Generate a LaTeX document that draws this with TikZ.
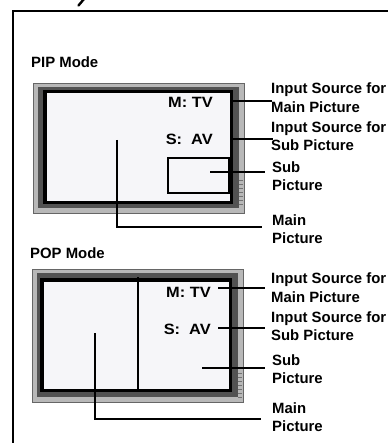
\documentclass[tikz,border=0pt]{standalone}
\usepackage{fontspec}
\setmainfont{Liberation Sans}
\newfontfamily\widesans[FakeStretch=1.1]{Liberation Sans}
\definecolor{screencol}{RGB}{246,246,249}
\tikzset{
  lbl/.style={anchor=base west, inner sep=0pt, font=\fontsize{14.9}{17}\selectfont\bfseries},
  src/.style={anchor=base east, inner sep=0pt, font=\fontsize{14.9}{17}\selectfont\widesans\bfseries},
  conn/.style={line width=2pt},
  bezel/.style={fill=black!28, draw=black!60, line width=0.8pt},
  band/.style={fill=black!68},
  screen/.style={fill=screencol, draw=black, line width=3.5pt},
  subbox/.style={draw=black, line width=2.5pt},
  btn/.style={draw=black!55, line width=0.6pt},
}
\begin{document}
\begin{tikzpicture}[x=1pt,y=-1pt]
\useasboundingbox (0,0) rectangle (387,443);
% outer frame and cropped glyph fragment
\draw[line width=2pt] (388,11) -- (13,11) -- (13,444);
\draw[line width=2.4pt, line cap=round] (84,-1) -- (78.5,5.5);

% ---------------- PIP ----------------
\node[lbl] (pipmode) at (31,68) {PIP Mode};
\draw[bezel] (33,83) rectangle (244,213);
\fill[band] (38,87) rectangle (239,208);
\draw[screen] (45,91.5) rectangle (231.5,202.5);
\foreach \yy in {180,184,...,204} \draw[btn] (239,\yy) -- (242.5,\yy);
\draw[subbox] (168,158) rectangle (229,193);
\node[src] (pipm) at (213,108) {M: TV};
\node[src] (pips) at (213,145) {S:~ AV};

\node[lbl] (pipl1a) at (271,94) {Input Source for};
\node[lbl] (pipl1b) at (271,113) {Main Picture};
\node[lbl] (pipl2a) at (271,133) {Input Source for};
\node[lbl] (pipl2b) at (271,151) {Sub Picture};
\node[lbl] (pipl3a) at (272,173) {Sub};
\node[lbl] (pipl3b) at (272,191) {Picture};
\node[lbl] (pipl4a) at (272,225) {Main};
\node[lbl] (pipl4b) at (272,243) {Picture};

\coordinate (pipMs) at (232,101);  \coordinate (pipMe) at (272,101);
\coordinate (pipSs) at (232,139);  \coordinate (pipSe) at (273,139);
\coordinate (pipUs) at (210,172);  \coordinate (pipUe) at (265,172);
\coordinate (pipPs) at (117,140);  \coordinate (pipPe) at (262,227);
\draw[conn] (pipMs) -- (pipMe);
\draw[conn] (pipSs) -- (pipSe);
\draw[conn] (pipUs) -- (pipUe);
\draw[conn] (pipPs) |- (pipPe);

% ---------------- POP ----------------
\node[lbl] (popmode) at (30,258) {POP Mode};
\draw[bezel] (32,269) rectangle (243,402);
\fill[band] (37,273) rectangle (238,397);
\draw[screen] (42,280) rectangle (230.5,390.5);
\foreach \yy in {373,377,...,397} \draw[btn] (238,\yy) -- (241.5,\yy);
\coordinate (divT) at (138,277);
\coordinate (divB) at (138,391);
\draw[line width=2pt] (divT) -- (divB);
\node[src] (popm) at (211,297) {M: TV};
\node[src] (pops) at (211,334) {S:~ AV};

\node[lbl] (popl1a) at (271,283) {Input Source for};
\node[lbl] (popl1b) at (271,302) {Main Picture};
\node[lbl] (popl2a) at (271,322) {Input Source for};
\node[lbl] (popl2b) at (271,340) {Sub Picture};
\node[lbl] (popl3a) at (272,365) {Sub};
\node[lbl] (popl3b) at (272,383) {Picture};
\node[lbl] (popl4a) at (272,413) {Main};
\node[lbl] (popl4b) at (272,431) {Picture};

\coordinate (popMs) at (218,288);  \coordinate (popMe) at (265,288);
\coordinate (popSs) at (218,328);  \coordinate (popSe) at (265,328);
\coordinate (popUs) at (202,368);  \coordinate (popUe) at (265,368);
\coordinate (popPs) at (95,333);   \coordinate (popPe) at (261,419);
\draw[conn] (popMs) -- (popMe);
\draw[conn] (popSs) -- (popSe);
\draw[conn] (popUs) -- (popUe);
\draw[conn] (popPs) |- (popPe);
\end{tikzpicture}
\end{document}
